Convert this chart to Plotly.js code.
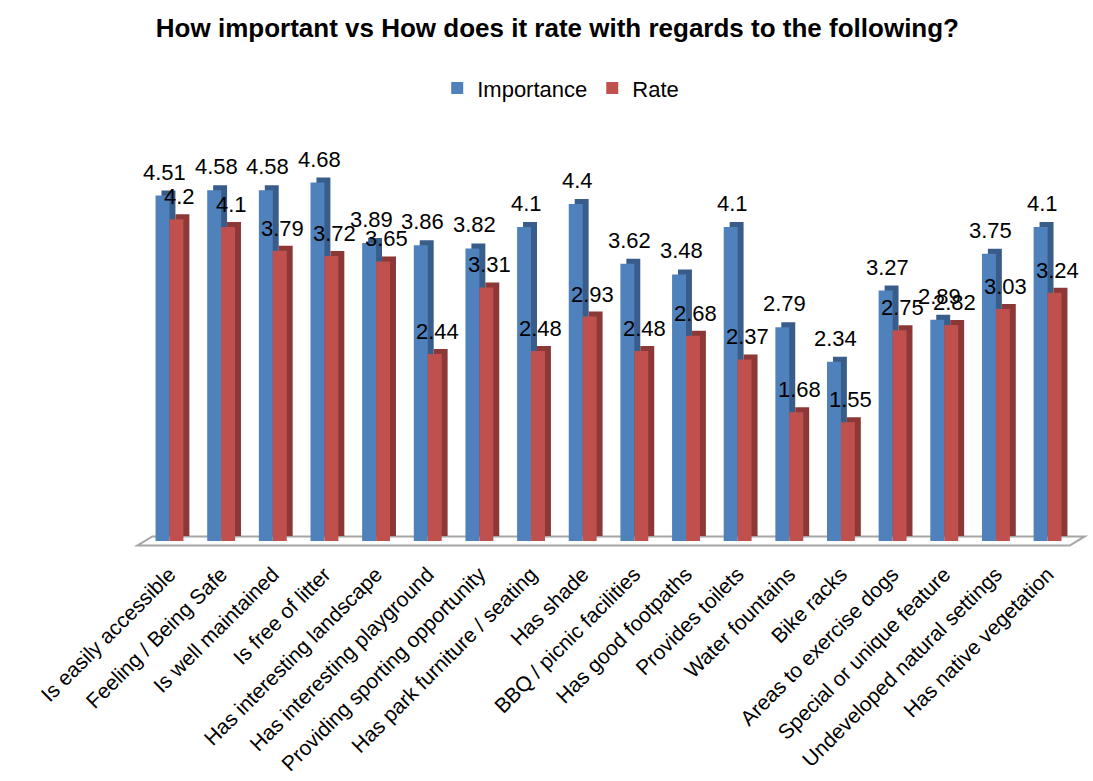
<!DOCTYPE html>
<html>
<head>
<meta charset="utf-8">
<script src="https://cdn.plot.ly/plotly-3.0.1.min.js"></script>
<style>
  html, body { margin: 0; padding: 0; background: #ffffff; }
  #chart { width: 1093px; height: 781px; }
</style>
</head>
<body>
<div id="chart"></div>
<script>
// Survey attributes and their mean scores
const categories = [
  "Is easily accessible",
  "Feeling / Being Safe",
  "Is well maintained",
  "Is free of litter",
  "Has interesting landscape",
  "Has interesting playground",
  "Providing sporting opportunity",
  "Has park furniture / seating",
  "Has shade",
  "BBQ / picnic facilities",
  "Has good footpaths",
  "Provides toilets",
  "Water fountains",
  "Bike racks",
  "Areas to exercise dogs",
  "Special or unique feature",
  "Undeveloped natural settings",
  "Has native vegetation"
];
const importance = [4.51, 4.58, 4.58, 4.68, 3.89, 3.86, 3.82, 4.1, 4.4, 3.62, 3.48, 4.1, 2.79, 2.34, 3.27, 2.89, 3.75, 4.1];
const rate = [4.2, 4.1, 3.79, 3.72, 3.65, 2.44, 3.31, 2.48, 2.93, 2.48, 2.68, 2.37, 1.68, 1.55, 2.75, 2.82, 3.03, 3.24];

const FONT = "Liberation Sans, Arial, sans-serif";
const BAR_W = 0.27;      // width of each bar, in category units
const DEPTH_X = 0.115;   // sideways shift of the bar's back face
const DEPTH_Y = 0.065;   // upward shift of the bar's back face

// Back face of a bar: a darker copy shifted right and up, drawn behind the front face
function backFace(values, color, offset) {
  return {
    type: "bar",
    x: categories,
    y: values,
    base: values.map(() => DEPTH_Y),
    width: BAR_W,
    offset: offset + DEPTH_X,
    marker: { color: color, line: { width: 0 } },
    showlegend: false,
    hoverinfo: "skip"
  };
}
function frontFace(name, values, color, offset) {
  return {
    type: "bar",
    name: name,
    x: categories,
    y: values,
    width: BAR_W,
    offset: offset,
    marker: { color: color, line: { width: 0 } }
  };
}

const traces = [
  backFace(importance, "#385d8a", -BAR_W),
  frontFace("Importance", importance, "#4f81bd", -BAR_W),
  backFace(rate, "#8c3836", 0),
  frontFace("Rate", rate, "#c0504d", 0)
];

// Value labels above each bar
const labelFont = { family: FONT, size: 22, color: "#000000" };
const annotations = [];
importance.forEach((v, i) => annotations.push({
  x: i - BAR_W / 2 + DEPTH_X / 3, y: v, xref: "x", yref: "y",
  text: String(v), showarrow: false, yanchor: "bottom", yshift: 9,
  font: labelFont
}));
rate.forEach((v, i) => annotations.push({
  x: i + BAR_W / 2 + DEPTH_X / 2, y: v, xref: "x", yref: "y",
  text: String(v), showarrow: false, yanchor: "bottom", yshift: 8,
  font: labelFont
}));

const layout = {
  width: 1093,
  height: 781,
  margin: { l: 141, r: 12, t: 158, b: 240 },
  paper_bgcolor: "#ffffff",
  plot_bgcolor: "rgba(0,0,0,0)",
  font: { family: FONT, color: "#000000" },
  title: {
    text: "<b>How important vs How does it rate with regards to the following?</b>",
    font: { family: FONT, size: 26, color: "#000000" },
    x: 0.51, xref: "container", xanchor: "center",
    y: 0.964, yref: "container", yanchor: "middle"
  },
  showlegend: true,
  legend: {
    orientation: "h",
    x: 0.513, xref: "container", xanchor: "center",
    y: 0.887, yref: "container", yanchor: "middle",
    font: { family: FONT, size: 22, color: "#000000" },
    itemwidth: 30,
    traceorder: "normal"
  },
  barmode: "overlay",
  xaxis: {
    type: "category",
    tickangle: -45,
    tickfont: { family: FONT, size: 21, color: "#000000" },
    ticklabelstandoff: 16,
    showgrid: false,
    showline: false,
    zeroline: false,
    ticks: "",
    fixedrange: true
  },
  yaxis: {
    range: [0, 5],
    visible: false,
    showgrid: false,
    zeroline: false,
    fixedrange: true
  },
  shapes: [{
    // floor plate under the bars
    type: "path",
    xref: "paper", yref: "paper",
    path: "M -0.004 -0.012 L 0.012 0.012 L 1.004 0.012 L 0.988 -0.012 Z",
    line: { color: "#a6a6a6", width: 2 },
    fillcolor: "#ffffff",
    layer: "below"
  }],
  annotations: annotations
};

Plotly.newPlot("chart", traces, layout, { displayModeBar: false, staticPlot: true });
</script>
</body>
</html>
